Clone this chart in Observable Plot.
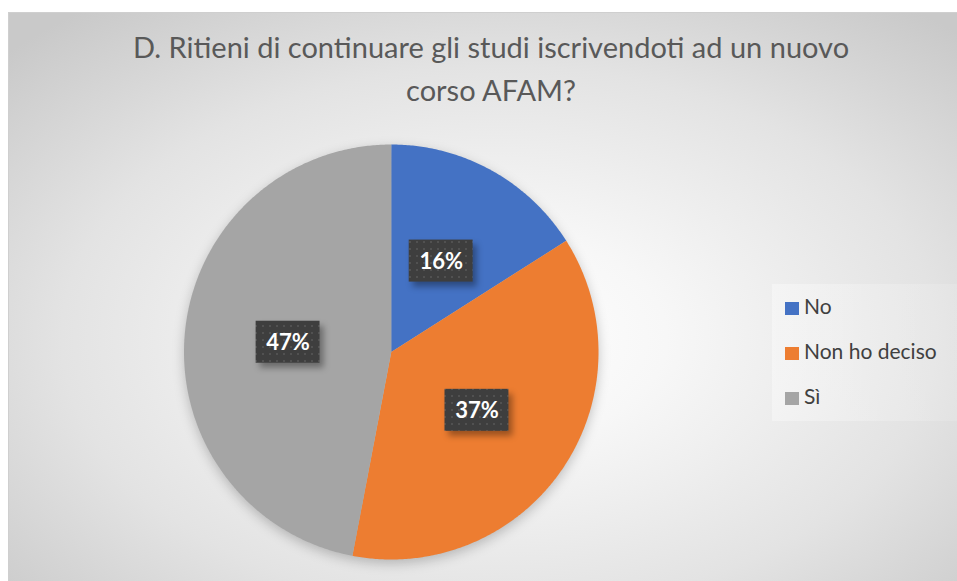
<!DOCTYPE html>
<html>
<head>
<meta charset="utf-8">
<script src="https://cdn.jsdelivr.net/npm/d3@7"></script>
<script src="https://cdn.jsdelivr.net/npm/@observablehq/plot@0.6"></script>
<style>
  html, body { margin: 0; padding: 0; background: #ffffff; }
  #page { position: relative; width: 957px; height: 581px; overflow: hidden; }
  #frame {
    position: absolute; left: 8px; top: 12px; width: 960px; height: 580px;
    border-left: 1px solid #cfcfcf; border-top: 1px solid #cfcfcf;
    background: radial-gradient(ellipse 70% 72% at 51% 56%, #ffffff 0%, #f7f7f7 25%, #e3e3e3 65%, #c9c9c9 100%);
  }
  #title {
    position: absolute; left: 0; width: 982px; top: 25px; text-align: center;
    font-family: Lato, sans-serif; font-size: 29px; line-height: 43px; color: #595959;
  }
  #legend {
    position: absolute; left: 772px; top: 284px; width: 185px; height: 137px;
    background: linear-gradient(90deg, rgba(255,255,255,0.35), rgba(255,255,255,0.12));
    font-family: Lato, sans-serif; font-size: 21px; color: #404040;
  }
  .item { position: absolute; left: 13px; height: 22px; line-height: 22px; white-space: nowrap; }
  .sw { display: inline-block; width: 14px; height: 13px; vertical-align: -1px; margin-right: 5px; }
  #chart { position: absolute; left: 0; top: 0; }
  #chart svg { background: transparent !important; overflow: visible; }
  .blur6 { filter: blur(6px); }
  .blur3 { filter: blur(3px); }
</style>
</head>
<body>
<div id="page">
  <div id="frame"></div>
  <div id="title"></div>
  <div id="chart"></div>
  <div id="legend"></div>
</div>
<script>
const titleLines = ["D. Ritieni di continuare gli studi iscrivendoti ad un nuovo", "corso AFAM?"];
const categories = ["No", "Non ho deciso", "Sì"];
const values = [16, 37, 47];
const labels = ["16%", "37%", "47%"];
const colors = ["#4472c4", "#ed7d31", "#a5a5a5"];

document.getElementById("title").innerHTML = titleLines.join("<br>");

// pie geometry in unit data coordinates (clockwise from top)
const arcs = d3.pie().sort(null).startAngle(0).endAngle(2 * Math.PI)(values);
const slicePts = [];
arcs.forEach((a, i) => {
  slicePts.push({cat: categories[i], x: 0, y: 0});
  const n = Math.max(2, Math.ceil((a.endAngle - a.startAngle) / (Math.PI / 360)));
  for (let k = 0; k <= n; k++) {
    const t = a.startAngle + (a.endAngle - a.startAngle) * k / n;
    slicePts.push({cat: categories[i], x: Math.sin(t), y: Math.cos(t)});
  }
  slicePts.push({cat: categories[i], x: 0, y: 0});
});
const circlePts = d3.range(0, 721).map(k => ({x: Math.sin(k * Math.PI / 360), y: Math.cos(k * Math.PI / 360)}));

const R = 207.5;
const lr = 0.5;
const labelPts = arcs.map((a, i) => {
  const m = (a.startAngle + a.endAngle) / 2;
  return {x: lr * Math.sin(m), y: lr * Math.cos(m), text: labels[i]};
});
const bw = 32 / R, bh = 21 / R;

const plot = Plot.plot({
  width: 957,
  height: 581,
  marginLeft: 183.5,
  marginRight: 958 - 599,
  marginTop: 144,
  marginBottom: 581 - 559,
  x: {domain: [-1, 1], axis: null},
  y: {domain: [-1, 1], axis: null},
  color: {domain: categories, range: colors},
  style: {background: "transparent"},
  marks: [
    Plot.line(circlePts, {x: "x", y: "y", fill: "#000", fillOpacity: 0.22, stroke: null, dy: 4, className: "blur6"}),
    Plot.line(slicePts, {x: "x", y: "y", z: "cat", fill: "cat", stroke: null}),
    Plot.rect(labelPts, {x1: d => d.x - bw, x2: d => d.x + bw, y1: d => d.y - bh, y2: d => d.y + bh, fill: "#000", fillOpacity: 0.35, dx: 4, dy: 5, className: "blur3"}),
    Plot.rect(labelPts, {x1: d => d.x - bw, x2: d => d.x + bw, y1: d => d.y - bh, y2: d => d.y + bh, fill: "url(#dots)"}),
    Plot.text(labelPts, {x: "x", y: "y", text: "text", fill: "#ffffff", fontSize: 22, fontWeight: "bold", fontFamily: "Lato, sans-serif", dy: 1})
  ]
});
const svg = d3.select(plot);
const pat = svg.insert("defs", ":first-child").append("pattern")
  .attr("id", "dots").attr("width", 7).attr("height", 7).attr("patternUnits", "userSpaceOnUse");
pat.append("rect").attr("width", 7).attr("height", 7).attr("fill", "#3e3e3e");
pat.append("rect").attr("x", 3).attr("y", 3).attr("width", 2).attr("height", 2).attr("fill", "#515151");
document.getElementById("chart").appendChild(plot);

const legend = document.getElementById("legend");
const itemTops = [11, 56, 101];
categories.forEach((c, i) => {
  const el = document.createElement("div");
  el.className = "item";
  el.style.top = itemTops[i] + "px";
  el.innerHTML = `<span class="sw" style="background:${colors[i]}"></span>${c}`;
  legend.appendChild(el);
});
</script>
</body>
</html>
